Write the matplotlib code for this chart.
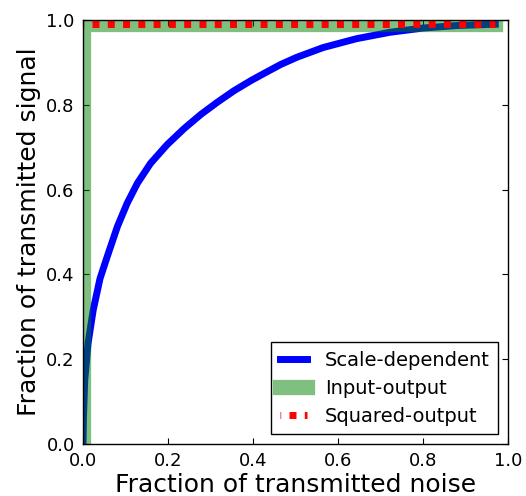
import matplotlib
matplotlib.use("Agg")
import matplotlib.pyplot as plt

# Scale-dependent curve (noise fraction, signal fraction)
scale_x = [0.0, 0.001, 0.004, 0.012, 0.024, 0.04, 0.057, 0.081, 0.104, 0.128, 0.159,
           0.198, 0.238, 0.277, 0.316, 0.355, 0.395, 0.426, 0.465, 0.503, 0.565, 0.644,
           0.722, 0.8, 0.88, 0.97]
scale_y = [0.0, 0.06, 0.15, 0.238, 0.316, 0.39, 0.442, 0.513, 0.568, 0.615, 0.662,
           0.706, 0.744, 0.777, 0.806, 0.833, 0.857, 0.874, 0.895, 0.912, 0.935, 0.956,
           0.971, 0.981, 0.987, 0.99]

# Input-output curve
io_x = [0.0, 0.0, 0.97]
io_y = [0.0, 0.991, 0.991]

# Squared-output curve
sq_x = [0.0, 0.97]
sq_y = [0.991, 0.991]

xticks = [0.0, 0.2, 0.4, 0.6, 0.8, 1.0]
yticks = [0.0, 0.2, 0.4, 0.6, 0.8, 1.0]

fig = plt.figure(figsize=(5.26, 4.96), dpi=100)
ax = fig.add_axes([83/526, 52/496, 425/526, 424/496])

ax.plot(scale_x, scale_y, color='b', lw=5, label='Scale-dependent',
        solid_joinstyle='round')
ax.plot(io_x, io_y, color='g', alpha=0.5, lw=11, label='Input-output')
ax.plot(sq_x, sq_y, color='r', lw=5, linestyle=(0.9, (1, 1.2)), label='Squared-output')

ax.set_xlim(0, 1)
ax.set_ylim(0, 1)
ax.set_xticks(xticks)
ax.set_yticks(yticks)
ax.set_xticklabels([f"{t:.1f}" for t in xticks])
ax.set_yticklabels([f"{t:.1f}" for t in yticks])
ax.tick_params(direction='in', top=True, right=True, length=4, width=0.8,
               labelsize=13, pad=6, colors='k')
for s in ax.spines.values():
    s.set_color('k')
    s.set_linewidth(1.0)

ax.set_xlabel('Fraction of transmitted noise', fontsize=18, labelpad=2)
ax.set_ylabel('Fraction of transmitted signal', fontsize=18, labelpad=4)

leg = ax.legend(loc='lower right', fontsize=14, fancybox=False, framealpha=1,
                edgecolor='k', handlelength=1.4, handletextpad=0.9,
                borderpad=0.45, labelspacing=0.45, borderaxespad=0.5)
leg.get_frame().set_linewidth(1.0)

fig.savefig('out.png', dpi=100, facecolor='white')
